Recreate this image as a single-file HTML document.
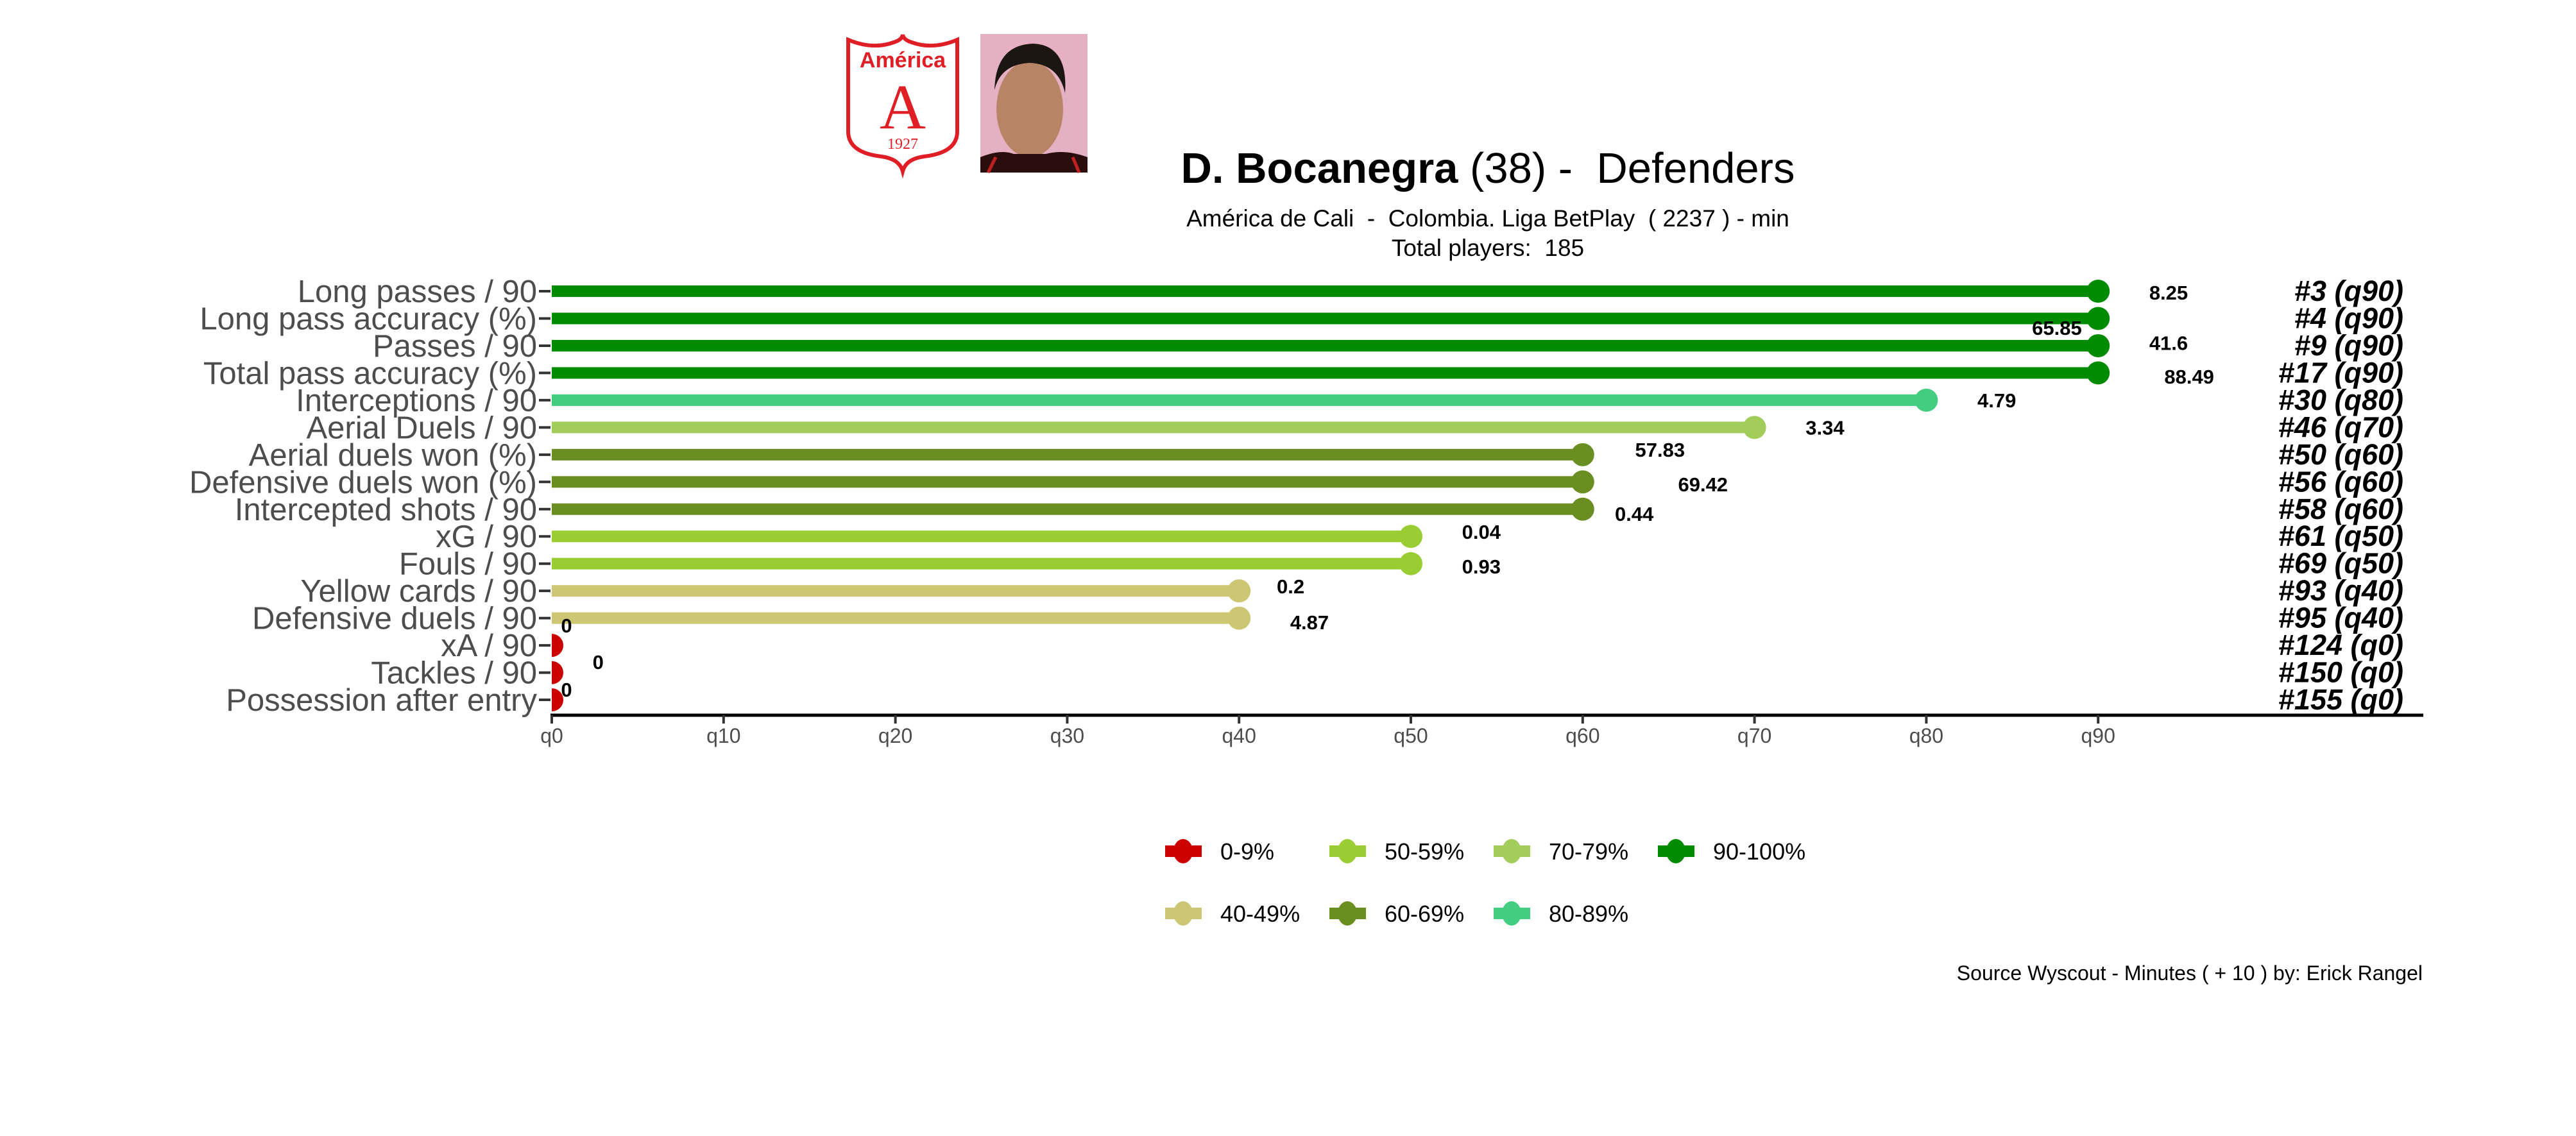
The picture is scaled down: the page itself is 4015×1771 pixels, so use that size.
<!DOCTYPE html>
<html><head><meta charset="utf-8">
<style>
html,body{margin:0;padding:0;background:#fff;}
svg{display:block;font-family:"Liberation Sans",Arial,sans-serif;}
text{white-space:pre;}
</style></head>
<body>
<svg id="chart" width="4015" height="1771" viewBox="0 0 4015 1771" xmlns="http://www.w3.org/2000/svg" xml:space="preserve">
<rect width="4015" height="1771" fill="#fff"/>
<g>
<path d="M1322,62 Q1360,78 1393,66 Q1406,62 1407,54 Q1408,62 1421,66 Q1454,78 1492,62 L1492,205 Q1492,238 1440,244 Q1412,248 1407,267 Q1402,248 1374,244 Q1322,238 1322,205 Z" fill="#fff" stroke="#e01e26" stroke-width="6"/>
<text x="1407" y="105" text-anchor="middle" font-size="34" font-weight="bold" fill="#e01e26">América</text>
<text x="1407" y="200" text-anchor="middle" font-size="100" font-family="Liberation Serif,serif" fill="#e01e26">A</text>
<text x="1407" y="232" text-anchor="middle" font-size="24" font-family="Liberation Serif,serif" fill="#e01e26">1927</text>
</g>
<g>
<rect x="1528" y="53" width="167" height="216" fill="#e4b0c2"/>
<ellipse cx="1605" cy="170" rx="52" ry="75" fill="#b88466"/>
<path d="M1550,140 Q1552,70 1610,68 Q1665,70 1660,145 Q1650,100 1605,98 Q1560,100 1550,140 Z" fill="#1c1612"/>
<path d="M1528,269 L1528,245 Q1560,232 1580,240 L1630,240 Q1660,232 1695,245 L1695,269 Z" fill="#2a0e0e"/>
<path d="M1540,269 L1552,245 M1682,269 L1672,245" stroke="#c02020" stroke-width="5"/>
</g>
<text x="2319" y="285" text-anchor="middle" font-size="67" fill="#000"><tspan font-weight="bold">D. Bocanegra</tspan> (38) -  Defenders</text>
<text x="2319" y="353" text-anchor="middle" font-size="37" fill="#000">América de Cali  -  Colombia. Liga BetPlay  ( 2237 ) - min</text>
<text x="2319" y="399" text-anchor="middle" font-size="37" fill="#000">Total players:  185</text>
<defs><clipPath id="plotclip"><rect x="860" y="400" width="3000" height="720"/></clipPath></defs>
<g id="plot"></g>
<text x="3776" y="1528" text-anchor="end" font-size="32" fill="#000">Source Wyscout - Minutes ( + 10 ) by: Erick Rangel</text>
</svg>
<script>
const categories=["Long passes / 90","Long pass accuracy (%)","Passes / 90","Total pass accuracy (%)","Interceptions / 90","Aerial Duels / 90","Aerial duels won (%)","Defensive duels won (%)","Intercepted shots / 90","xG / 90","Fouls / 90","Yellow cards / 90","Defensive duels / 90","xA / 90","Tackles / 90","Possession after entry"];
const percentiles=[90,90,90,90,80,70,60,60,60,50,50,40,40,0,0,0];
const valueLabels=["8.25","65.85","41.6","88.49","4.79","3.34","57.83","69.42","0.44","0.04","0.93","0.2","4.87","0","0","0"];
const rankLabels=["#3 (q90)","#4 (q90)","#9 (q90)","#17 (q90)","#30 (q80)","#46 (q70)","#50 (q60)","#56 (q60)","#58 (q60)","#61 (q50)","#69 (q50)","#93 (q40)","#95 (q40)","#124 (q0)","#150 (q0)","#155 (q0)"];
const xTicks=[0,10,20,30,40,50,60,70,80,90];
const labelNudgeX=[4.1,-2.4,4.1,5.3,4.1,4.1,4.5,7,3,4.1,4.1,3,4.1,0.86,2.7,0.86];
const labelNudgeY=[0.05,0.34,-0.1,0.13,0,0,-0.18,0.09,0.17,-0.17,0.1,-0.17,0.15,-0.73,-0.39,-0.38];
const legendLabels=["0-9%","50-59%","70-79%","90-100%","40-49%","60-69%","80-89%"];
const legendColors=["#CD0000","#9ACD32","#A2CD5A","#008B00","#CDC673","#6B8E23","#43CD80"];

const NS="http://www.w3.org/2000/svg";
const x=q=>860+q*26.78;
const y=i=>454+i*42.47;
function colorFor(q){if(q>=90)return"#008B00";if(q>=80)return"#43CD80";if(q>=70)return"#A2CD5A";if(q>=60)return"#6B8E23";if(q>=50)return"#9ACD32";if(q>=40)return"#CDC673";return"#CD0000";}
function mk(tag,attrs,parent){const e=document.createElementNS(NS,tag);for(const k in attrs)e.setAttribute(k,attrs[k]);parent.appendChild(e);return e;}
const plot=document.getElementById("plot");
const marks=mk("g",{"clip-path":"url(#plotclip)"},plot);
categories.forEach((c,i)=>{
  const col=colorFor(percentiles[i]);
  const t=mk("text",{x:837,y:y(i)+17,"text-anchor":"end","font-size":49,fill:"#4d4d4d"},plot);
  
  
  t.textContent=c;
  const tk=mk("line",{x1:840,x2:858,y1:y(i),y2:y(i),stroke:"#333",'stroke-width':4},plot);
  
  
  if(percentiles[i]>0){
    const b=mk("rect",{x:x(0),y:y(i)-9,width:x(percentiles[i])-x(0),height:18,fill:col},marks);
    
    
  }
  const d=mk("circle",{cx:x(percentiles[i]),cy:y(i),r:18,fill:col},marks);
  
  
  const v=mk("text",{x:x(percentiles[i]+labelNudgeX[i]),y:y(i)+labelNudgeY[i]*42.47+11,"text-anchor":"middle","font-size":31,"font-weight":"bold",fill:"#000"},plot);
  
  
  v.textContent=valueLabels[i];
  const r=mk("text",{x:3746,y:y(i)+15,"text-anchor":"end","font-size":45,"font-weight":"bold","font-style":"italic",fill:"#000"},plot);
  
  
  r.textContent=rankLabels[i];
});
const ax=mk("line",{x1:858,x2:3777,y1:1115,y2:1115,stroke:"#000",'stroke-width':5},plot);


xTicks.forEach(q=>{
  const l=mk("line",{x1:x(q),x2:x(q),y1:1115,y2:1128,stroke:"#333",'stroke-width':4},plot);
  
  
  const t=mk("text",{x:x(q),y:1158,"text-anchor":"middle","font-size":32,fill:"#4d4d4d"},plot);
  
  
  t.textContent="q"+q;
});
const lg=mk("g",{},plot);


legendLabels.forEach((lab,i)=>{
  const row=i<4?0:1,colI=i<4?i:i-4;
  const cx=1844+colI*256,cy=1327+row*97;
  const g=mk("g",{},lg);
  
  
  mk("rect",{x:cx-28,y:cy-9,width:57,height:18,fill:legendColors[i]},g);
  mk("ellipse",{cx:cx,cy:cy,rx:15,ry:19,fill:legendColors[i]},g);
  const t=mk("text",{x:1902+colI*256,y:cy+13,"font-size":36,fill:"#000"},g);
  t.textContent=lab;
});
</script>
</body></html>
